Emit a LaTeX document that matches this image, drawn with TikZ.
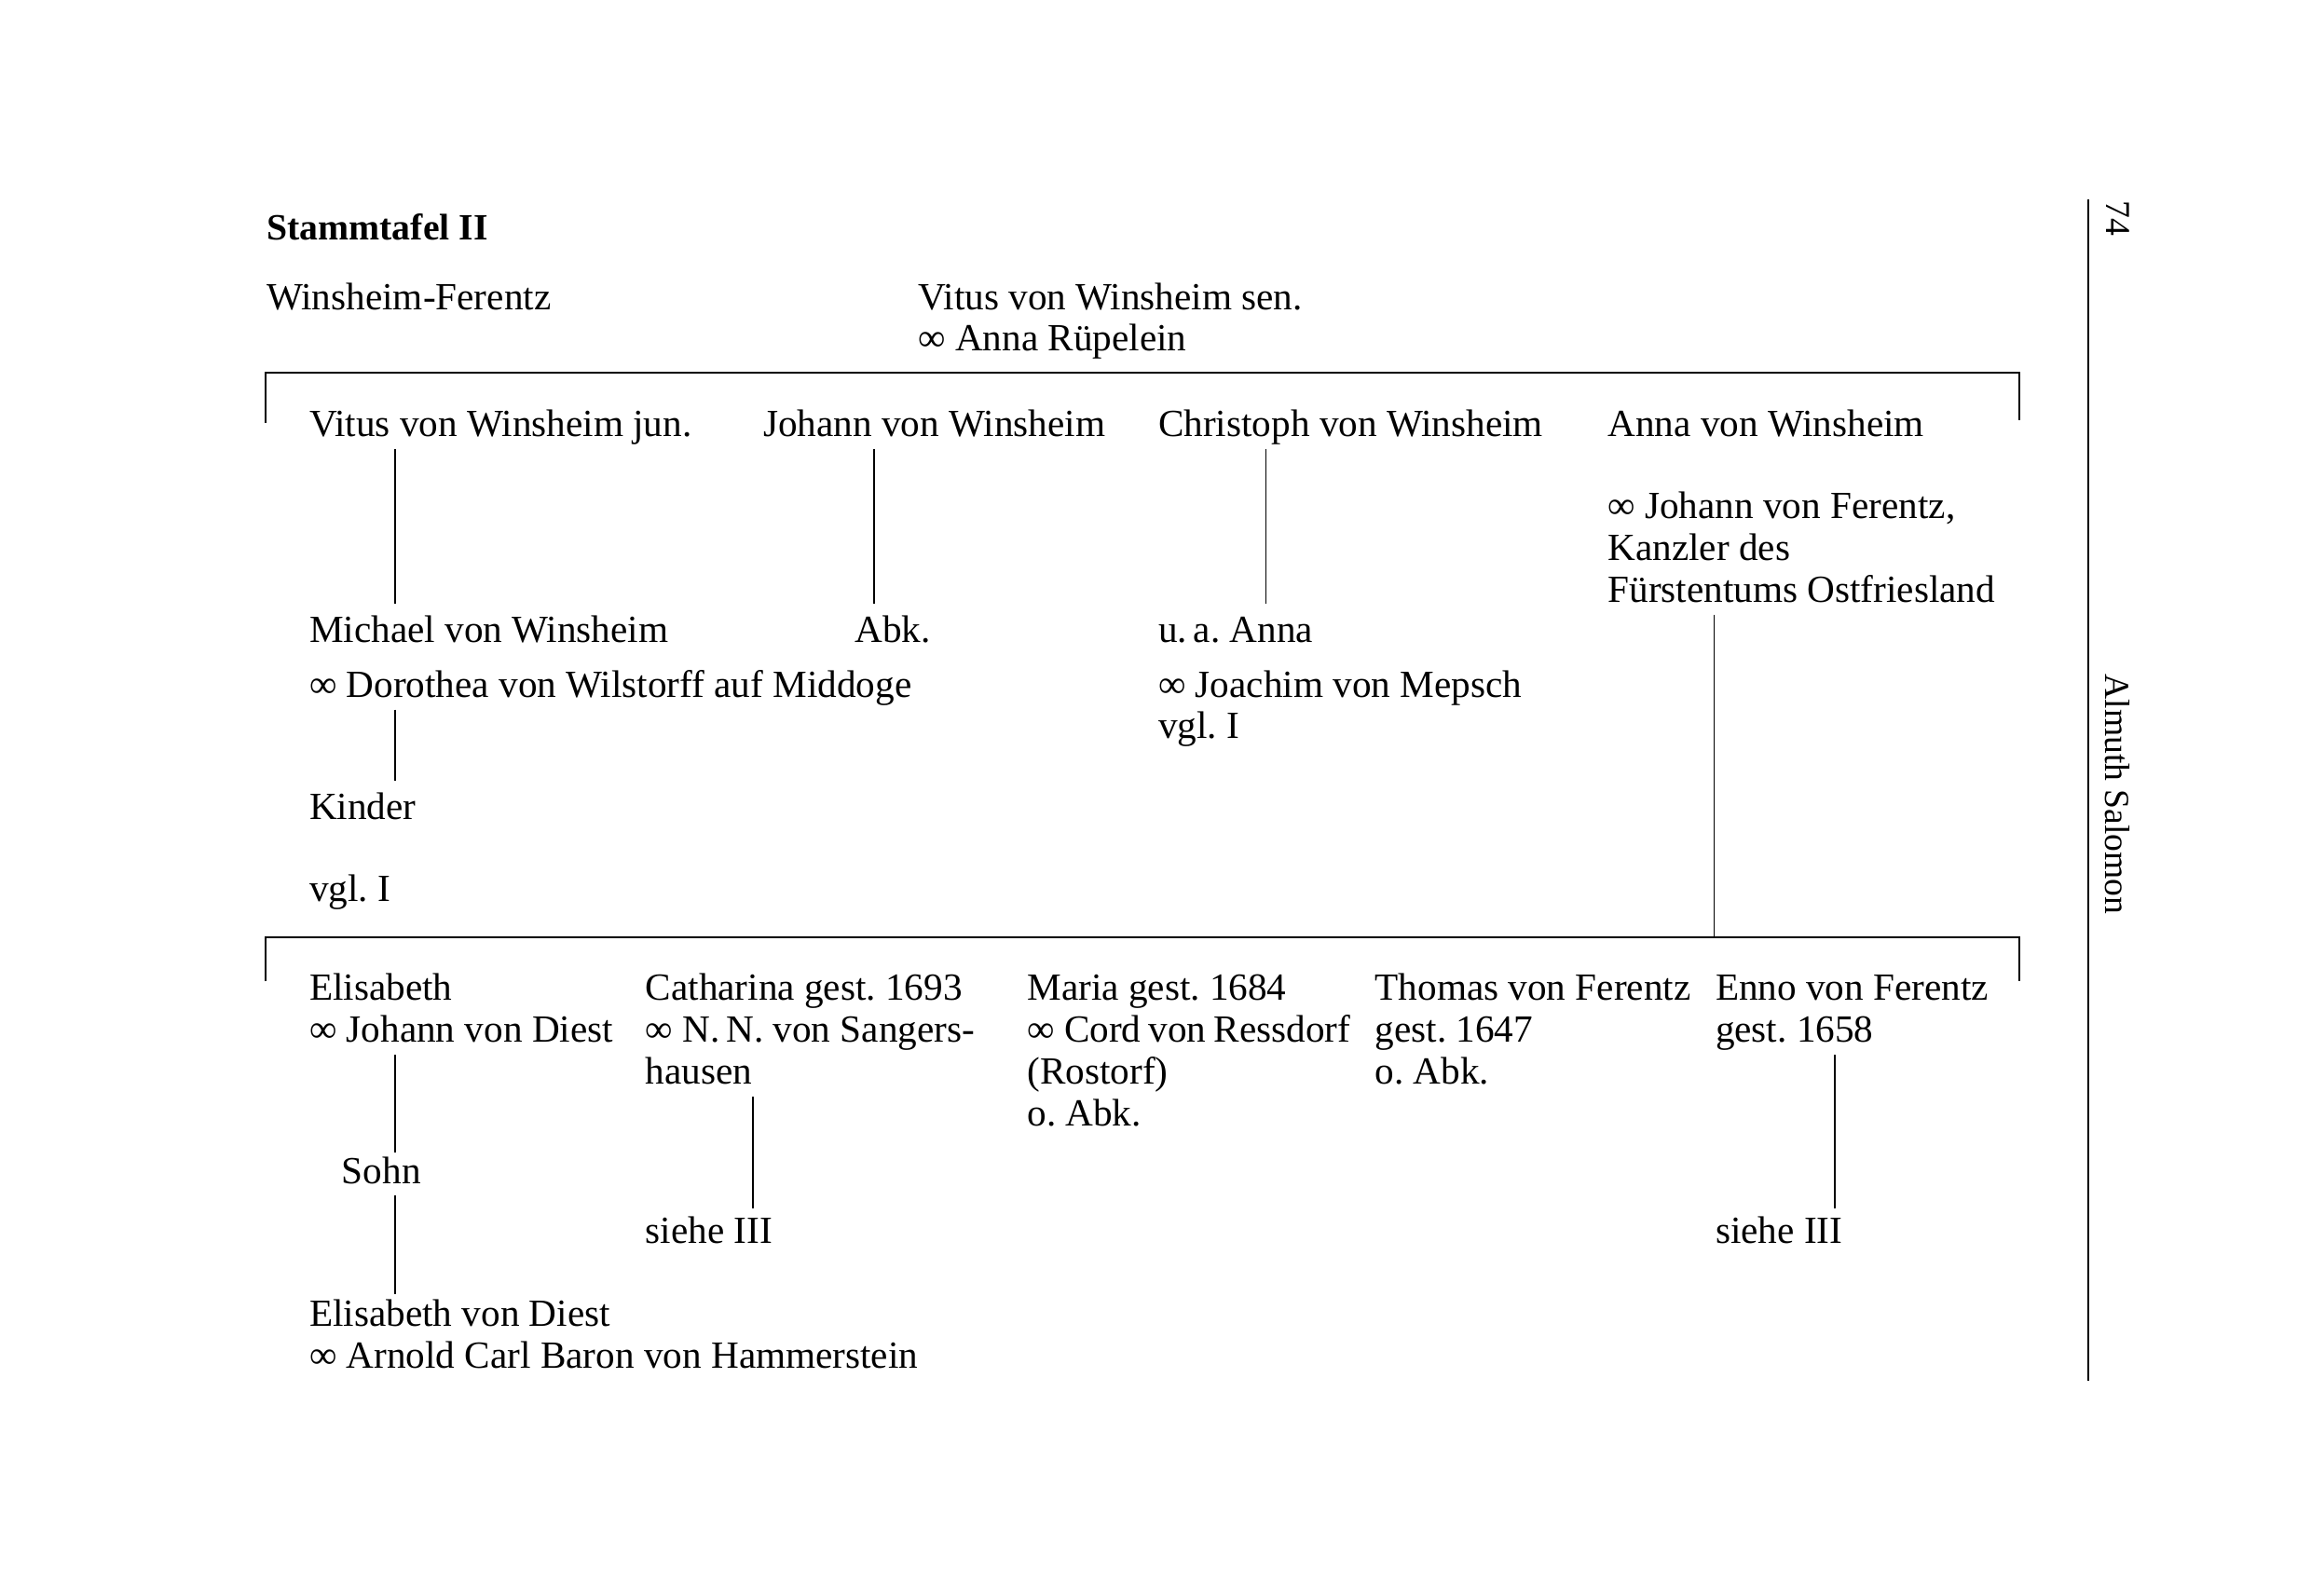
\documentclass[tikz,border=0pt]{standalone}
\usepackage{fontspec}
\setmainfont{Liberation Serif}
\frenchspacing
\newcommand{\blk}[1]{\begin{tabular}[t]{@{}l@{}}#1\end{tabular}}
\begin{document}
\begin{tikzpicture}[x=0.015815cm,y=-0.015815cm,
  txt/.style={anchor=base west,inner sep=0pt,outer sep=0pt,font=\fontsize{11.72pt}{12.72pt}\selectfont},
  side/.style={inner sep=0pt,outer sep=0pt,rotate=-90,font=\fontsize{10.7pt}{12pt}\selectfont},
  link/.style={line width=0.45pt},
  bracket/.style={line width=0.65pt},
  marginline/.style={line width=0.65pt}]
\useasboundingbox (0,0) rectangle (1568,1082.5);
% header
\node[txt,font=\fontsize{11.3pt}{12.72pt}\selectfont\bfseries] (st) at (181,163) {Stammtafel II};
\node[txt] (wf) at (181,210) {Winsheim-Ferentz};
\node[txt] (vs) at (623,210) {\blk{Vitus von Winsheim sen.\\∞ Anna Rüpelein}};
% top bracket
\coordinate (tl) at (180,287);
\coordinate (tlt) at (180,253);
\coordinate (trt) at (1370,253);
\coordinate (tr) at (1370,285);
\draw[bracket] (tl) -- (tlt) -- (trt) -- (tr);
% first generation
\node[txt] (vj) at (210,296) {\blk{Vitus von Winsheim jun.}};
\node[txt] (jw) at (518,296) {\blk{Johann von Winsheim}};
\node[txt] (cw) at (786,296) {\blk{Christoph von Winsheim}};
\node[txt] (aw) at (1091,296) {\blk{Anna von Winsheim}};
\node[txt] (af) at (1091,352) {\blk{∞ Johann von Ferentz,\\Kanzler des\\Fürstentums Ostfriesland}};
% second generation
\node[txt] (mw) at (210,436) {\blk{Michael von Winsheim}};
\node[txt] (abk) at (580,436) {\blk{Abk.}};
\node[txt] (ua) at (786,436) {\blk{u.\,a. Anna}};
\node[txt] (dor) at (210,473) {\blk{∞ Dorothea von Wilstorff auf Middoge}};
\node[txt] (jm) at (786,473) {\blk{∞ Joachim von Mepsch\\vgl. I}};
\node[txt] (kin) at (210,556) {\blk{Kinder}};
\node[txt] (vgl) at (210,612) {\blk{vgl. I}};
% bottom bracket
\coordinate (bl) at (180,666);
\coordinate (blt) at (180,636);
\coordinate (brt) at (1370,636);
\coordinate (br) at (1370,666);
\draw[bracket] (bl) -- (blt) -- (brt) -- (br);
% Ferentz children
\node[txt] (el) at (210,679) {\blk{Elisabeth\\∞ Johann von Diest}};
\node[txt] (ca) at (438,679) {\blk{Catharina gest. 1693\\∞ N.\,N. von Sangers-\\hausen}};
\node[txt] (ma) at (697,679) {\blk{Maria gest. 1684\\∞ Cord\kern0.2em von\kern0.2em Ressdorf\\(Rostorf)\\o. Abk.}};
\node[txt] (th) at (933,679) {\blk{Thomas von Ferentz\\gest. 1647\\o. Abk.}};
\node[txt] (en) at (1164,679) {\blk{Enno von Ferentz\\gest. 1658}};
\node[txt] (sohn) at (232,803) {\blk{Sohn}};
\node[txt] (s1) at (438,844) {\blk{siehe III}};
\node[txt] (s2) at (1164,844) {\blk{siehe III}};
\node[txt] (ed) at (210,900) {\blk{Elisabeth von Diest\\∞ Arnold Carl Baron von Hammerstein}};
% connector columns
\coordinate (c1) at (268,0);
\coordinate (c2) at (593,0);
\coordinate (c3) at (859,0);
\coordinate (c4) at (1163,0);
\coordinate (c5) at (511,0);
\coordinate (c6) at (1245,0);
% connectors
\draw[link,shorten >=2.9pt] (vj.south -| c1) -- (mw.north -| c1);
\draw[link,shorten >=2.9pt] (jw.south -| c2) -- (abk.north -| c2);
\draw[link,shorten >=2.9pt] (cw.south -| c3) -- (ua.north -| c3);
\draw[link,shorten >=2.9pt] (dor.south -| c1) -- (kin.north -| c1);
\draw[link] (af.south -| c4) -- (blt -| c4);
\draw[link,shorten >=0.6pt] (el.south -| c1) -- (sohn.north -| c1);
\draw[link,shorten >=1pt] (sohn.south -| c1) -- (ed.north -| c1);
\draw[link,shorten >=2pt] (ca.south -| c5) -- (s1.north -| c5);
\draw[link,shorten >=2pt] (en.south -| c6) -- (s2.north -| c6);
% margin
\coordinate (mt) at (1417,135);
\coordinate (mb) at (1417,937);
\draw[marginline] (mt) -- (mb);
\node[side] (pg) at (1437,148) {74};
\node[side] (au) at (1437,539) {Almuth Salomon};
\end{tikzpicture}
\end{document}
